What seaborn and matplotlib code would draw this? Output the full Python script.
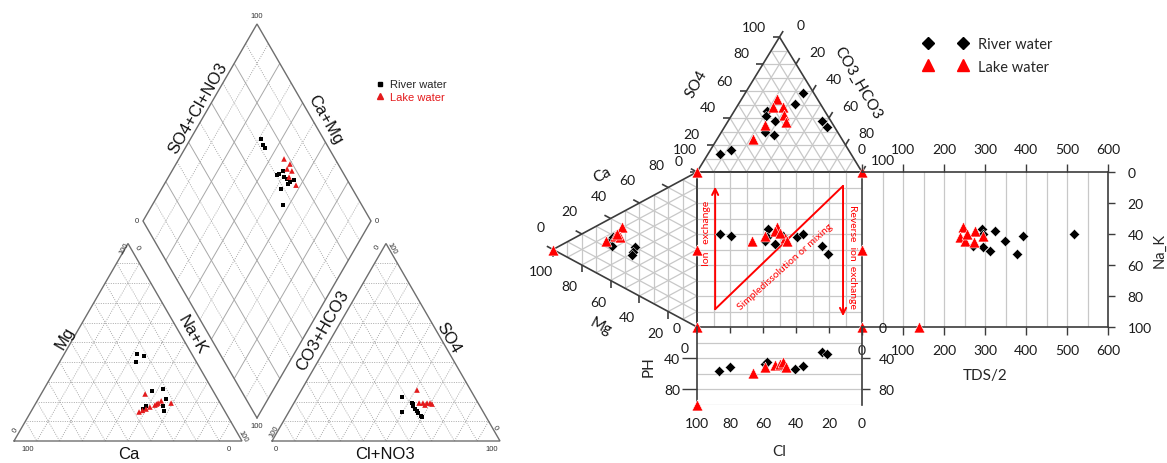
import numpy as np
import matplotlib
matplotlib.use("Agg")
import matplotlib.pyplot as plt
import seaborn as sns
from matplotlib.lines import Line2D

sns.set_theme(style="white")
plt.rcParams["font.family"] = ["Liberation Sans", "DejaVu Sans"]

# ---------------- Piper diagram data (% meq/L) ----------------
# cation triangle: Mg and Na+K (Ca is the remainder)
pip_cat_river_mg = [44.0, 43.0, 40.0, 26.3, 25.3, 21.3, 17.7, 15.2, 17.7, 16.2]
pip_cat_river_nak = [32.0, 35.5, 33.5, 52.2, 47.9, 56.0, 56.5, 58.2, 49.0, 48.5]
pip_cat_lake_mg = [23.8, 19.2, 14.7, 16.2, 17.2, 18.2, 19.2, 20.3, 15.5, 18.7]
pip_cat_lake_nak = [45.6, 59.3, 47.5, 49.8, 51.0, 52.7, 53.6, 54.4, 48.6, 53.2]
# anion triangle: SO4 and Cl+NO3 (CO3+HCO3 is the remainder)
pip_an_river_so4 = [22.3, 14.7, 19.2, 17.7, 16.2, 15.2, 14.2, 12.7, 12.2, 18.7]
pip_an_river_cl = [45.9, 49.7, 51.8, 53.0, 54.6, 56.0, 56.9, 59.0, 59.7, 52.5]
pip_an_lake_so4 = [25.8, 19.2, 19.2, 19.2, 19.2, 18.7, 18.2]
pip_an_lake_cl = [50.7, 54.9, 56.6, 58.4, 59.7, 60.8, 58.0]
# diamond: Ca+Mg and SO4+Cl+NO3
pip_dia_river_camg = [69.0, 66.7, 65.0, 52.3, 51.3, 49.3, 47.5, 45.5, 44.2, 47.6, 42.7, 45.8, 53.0]
pip_dia_river_so4cl = [72.6, 71.9, 72.0, 71.6, 74.1, 73.0, 73.8, 74.4, 76.6, 68.7, 65.5, 73.0, 70.5]
pip_dia_lake_camg = [53.9, 50.0, 50.0, 47.4, 42.0, 47.1]
pip_dia_lake_so4cl = [77.6, 78.9, 76.4, 78.0, 76.2, 75.2]

# ---------------- Durov diagram data ----------------
# anion triangle: SO4 and CO3_HCO3 (Cl is the remainder)
dur_an_river_so4 = [58.5, 50.4, 45.2, 41.5, 37.8, 29.6, 27.4, 37.8, 33.3, 13.3, 16.3]
dur_an_river_hco3 = [35.0, 34.2, 19.8, 21.1, 28.4, 26.4, 33.0, 56.9, 62.1, 7.3, 12.5]
dur_an_lake_so4 = [54.1, 48.1, 48.1, 42.2, 37.0, 34.8, 24.4]
dur_an_lake_hco3 = [21.4, 22.0, 28.1, 31.6, 35.4, 23.8, 21.7]
# cation triangle: Ca and Mg (Na_K is the remainder)
dur_cat_river_ca = [25.1, 22.6, 29.9, 26.1, 23.8, 28.7]
dur_cat_river_mg = [60.4, 59.0, 43.1, 44.4, 45.1, 58.3]
dur_cat_lake_ca = [38.3, 30.1, 23.7, 31.1, 32.0]
dur_cat_lake_mg = [52.1, 56.9, 63.2, 53.5, 55.6]
# central square: Cl and Na_K
dur_sq_river_cl = [86.1, 79.4, 57.0, 57.6, 52.7, 58.8, 39.4, 35.8, 24.2, 20.6, 47.9]
dur_sq_river_nak = [40.0, 41.3, 36.8, 41.9, 46.5, 44.5, 41.9, 40.0, 47.7, 52.9, 41.3]
dur_sq_lake_cl = [66.7, 58.8, 51.5, 52.7, 46.7, 45.5, 49.7]
dur_sq_lake_nak = [44.5, 41.3, 35.5, 38.1, 42.6, 44.5, 39.4]
# pH panel
dur_ph_river_cl = [86.7, 80.0, 58.8, 57.6, 40.6, 35.8, 24.2, 21.2, 49.7]
dur_ph_river_ph = [56.8, 51.6, 47.7, 45.2, 54.2, 50.3, 32.3, 34.8, 50.3]
dur_ph_lake_cl = [66.1, 58.8, 52.7, 49.7, 47.9, 46.1]
dur_ph_lake_ph = [59.4, 51.6, 49.0, 47.7, 45.2, 51.6]
# TDS panel
dur_tds_river = [293, 295, 324, 295, 312, 349, 393, 378, 517, 271]
dur_tds_river_nak = [36.8, 40.0, 38.1, 48.4, 51.0, 44.5, 41.3, 52.9, 40.0, 47.7]
dur_tds_lake = [246, 239, 251, 276, 273, 295, 256]
dur_tds_lake_nak = [35.5, 41.9, 44.5, 38.1, 45.2, 41.3, 40.0]
# template anchor points of the Durov sheet
anchor_sq_cl = [100, 100, 100, 0, 0, 0]
anchor_sq_nak = [0, 50, 100, 0, 50, 100]
anchor_tds, anchor_tds_nak = [140], [100]
anchor_ph_cl, anchor_ph = [100], [100]
anchor_cat_ca, anchor_cat_mg = [0], [100]

# ---------------- figure and helpers ----------------
W, H = 1167, 464
fig = plt.figure(figsize=(W / 100, H / 100), dpi=100)
cv = fig.add_axes([0, 0, 1, 1])
cv.set_xlim(0, W)
cv.set_ylim(H, 0)
cv.axis("off")

RED = "#ff0000"
PRED = "#e41a1c"
GRID_D = "#c8c8c8"
EDGE_D = "#3c3c3c"
DFONT = "Lato"


def px_axes(x0, y0, x1, y1):
    ax = fig.add_axes([x0 / W, 1 - y1 / H, (x1 - x0) / W, (y1 - y0) / H])
    ax.set_facecolor("none")
    return ax


def bary(verts, *parts):
    F = np.column_stack([np.asarray(p, float) for p in parts]) / 100.0
    return F @ np.asarray(verts, float)


def seg(ax, p, q, **kw):
    ax.plot([p[0], q[0]], [p[1], q[1]], solid_capstyle="butt", **kw)


def tri_grid(ax, verts, steps, **kw):
    V = np.asarray(verts, float)
    for i in range(3):
        j, k = (i + 1) % 3, (i + 2) % 3
        for t in steps:
            seg(ax, t * V[i] + (1 - t) * V[j], t * V[i] + (1 - t) * V[k], **kw)


def outline(ax, verts, **kw):
    V = np.asarray(verts, float)
    V = np.vstack([V, V[:1]])
    ax.plot(V[:, 0], V[:, 1], solid_joinstyle="miter", **kw)


def scatter(ax, x, y, style):
    sns.scatterplot(x=np.asarray(x, float), y=np.asarray(y, float), ax=ax,
                    legend=False, clip_on=False, zorder=6, **style)


PIP_RIVER = dict(marker="s", s=10, color="black", edgecolor="none", linewidth=0)
PIP_LAKE = dict(marker="^", s=16, color=PRED, edgecolor="none", linewidth=0)
DUR_RIVER = dict(marker="D", s=28, color="black", edgecolor="white", linewidth=0.3)
DUR_LAKE = dict(marker="^", s=62, color=RED, edgecolor="white", linewidth=0.4)

# ================= Piper diagram =================
CAT_V = [(14, 442), (128, 244.5), (242, 442)]      # Ca, Mg, Na+K
AN_V = [(272, 442), (386, 244.5), (500, 442)]      # CO3+HCO3, SO4, Cl+NO3
D_B, D_L, D_R = np.array([257.0, 419.0]), np.array([143.0, 222.0]), np.array([371.0, 222.0])

dotted = dict(color="#a0a0a0", lw=0.6, ls=(0, (1.2, 1.6)), zorder=1)
solid = dict(color="#a8a8a8", lw=0.7, zorder=1)
edge_p = dict(color="#6e6e6e", lw=1.0, zorder=2)

tenths = np.arange(1, 10) / 10
for verts in (CAT_V, AN_V):
    tri_grid(cv, verts, tenths, **dotted)
    outline(cv, verts, **edge_p)

for t in tenths:
    style = solid if round(t * 10) % 2 == 0 else dotted
    a = D_B + t * (D_L - D_B)
    seg(cv, a, a + (D_R - D_B), **style)
    b = D_B + t * (D_R - D_B)
    seg(cv, b, b + (D_L - D_B), **style)
outline(cv, [D_B, D_L, D_B + (D_L - D_B) + (D_R - D_B), D_R], **edge_p)


def dia_xy(camg, so4cl):
    u = np.asarray(camg, float)[:, None] / 100
    v = np.asarray(so4cl, float)[:, None] / 100
    return D_B + u * (D_L - D_B) + v * (D_R - D_B)


def cat_xy(mg, nak):
    mg, nak = np.asarray(mg, float), np.asarray(nak, float)
    return bary(CAT_V, 100 - mg - nak, mg, nak)


def an_xy(so4, cl):
    so4, cl = np.asarray(so4, float), np.asarray(cl, float)
    return bary(AN_V, 100 - so4 - cl, so4, cl)


for xy, st in [(cat_xy(pip_cat_river_mg, pip_cat_river_nak), PIP_RIVER),
               (cat_xy(pip_cat_lake_mg, pip_cat_lake_nak), PIP_LAKE),
               (an_xy(pip_an_river_so4, pip_an_river_cl), PIP_RIVER),
               (an_xy(pip_an_lake_so4, pip_an_lake_cl), PIP_LAKE),
               (dia_xy(pip_dia_river_camg, pip_dia_river_so4cl), PIP_RIVER),
               (dia_xy(pip_dia_lake_camg, pip_dia_lake_so4cl), PIP_LAKE)]:
    scatter(cv, xy[:, 0], xy[:, 1], st)

big = dict(fontsize=12, color="#111111", ha="center", va="center")
for x, y, s, r in [(198, 108, "SO4+Cl+NO3", 60), (325, 120, "Ca+Mg", -60),
                   (65, 338, "Mg", 60), (192, 335, "Na+K", -60),
                   (323, 331, "CO3+HCO3", 60), (448, 338, "SO4", -60),
                   (129, 455, "Ca", 0), (385, 455, "Cl+NO3", 0)]:
    cv.text(x, y, s, rotation=r, **big)

small = dict(fontsize=5.5, color="#333333", ha="center", va="center")
for x, y, s, r in [(257, 17, "100", 0), (137, 222, "0", 0), (377, 222, "0", 0),
                   (257, 427, "100", 0),
                   (28, 450, "100", 0), (229, 450, "0", 0), (15, 430, "0", 60),
                   (124, 249, "100", 60), (137, 248, "0", -60), (243, 437, "100", -60),
                   (276, 450, "0", 0), (274, 432, "100", 60), (377, 247, "0", 60),
                   (392, 249, "100", -60), (495, 428, "0", -60), (492, 450, "100", 0)]:
    cv.text(x, y, s, rotation=r, **small)

pip_handles = [Line2D([], [], marker="s", ls="none", color="black", ms=3),
               Line2D([], [], marker="^", ls="none", color=PRED, ms=4)]
leg1 = cv.legend(pip_handles, ["River water", "Lake water"], loc="center left",
                 bbox_to_anchor=(375.5, 91.5), bbox_transform=cv.transData,
                 frameon=False, fontsize=8, handlelength=0.8, handletextpad=0.5,
                 labelspacing=0.2, borderpad=0, borderaxespad=0, numpoints=1)
leg1.get_texts()[1].set_color(PRED)
cv.add_artist(leg1)

# ================= Durov diagram =================
TOP_V = [(697, 173), (862, 173), (779.5, 38)]      # Cl, CO3_HCO3, SO4
LEFT_V = [(697, 173), (553, 250.5), (697, 328)]    # Ca, Mg, Na_K

gridD = dict(color=GRID_D, lw=0.9, zorder=1)
edgeD = dict(color=EDGE_D, lw=1.2, zorder=3)
for verts in (TOP_V, LEFT_V):
    tri_grid(cv, verts, tenths, **gridD)
    outline(cv, verts, **edgeD)


def edge_ticks(verts, i, j, k, offset, ha, length=7):
    V = np.asarray(verts, float)
    d = V[j] - V[k]
    d = d / np.hypot(*d)
    for t in np.arange(0, 6) / 5:
        p = t * V[i] + (1 - t) * V[j]
        seg(cv, p, p + length * d, **edgeD)
        cv.text(p[0] + offset[0], p[1] + offset[1], f"{round(t * 100)}",
                ha=ha, va="center", fontsize=10, family=DFONT, color="#1a1a1a")


edge_ticks(TOP_V, 2, 0, 1, (-14, -10.5), "right")     # SO4
edge_ticks(TOP_V, 1, 2, 0, (21, -12), "center")       # CO3_HCO3
edge_ticks(LEFT_V, 0, 1, 2, (-12, -22.5), "center")   # Ca
edge_ticks(LEFT_V, 1, 2, 0, (-12.5, 21.5), "center")  # Mg

lab = dict(fontsize=11, family=DFONT, color="#111111", ha="center", va="center")
cv.text(696, 84, "SO4", rotation=60, **lab)
cv.text(858, 83, "CO3_HCO3", rotation=-60, **lab)
cv.text(602, 175, "Ca", rotation=28, **lab)
cv.text(601, 327, "Mg", rotation=-28, **lab)

an_river = bary(TOP_V, 100 - np.add(dur_an_river_so4, dur_an_river_hco3), dur_an_river_hco3, dur_an_river_so4)
an_lake = bary(TOP_V, 100 - np.add(dur_an_lake_so4, dur_an_lake_hco3), dur_an_lake_hco3, dur_an_lake_so4)
cat_river = bary(LEFT_V, dur_cat_river_ca, dur_cat_river_mg, 100 - np.add(dur_cat_river_ca, dur_cat_river_mg))
cat_lake = bary(LEFT_V, dur_cat_lake_ca, dur_cat_lake_mg, 100 - np.add(dur_cat_lake_ca, dur_cat_lake_mg))
cat_anchor = bary(LEFT_V, anchor_cat_ca, anchor_cat_mg, 100 - np.add(anchor_cat_ca, anchor_cat_mg))
scatter(cv, an_river[:, 0], an_river[:, 1], DUR_RIVER)
scatter(cv, an_lake[:, 0], an_lake[:, 1], DUR_LAKE)
scatter(cv, cat_river[:, 0], cat_river[:, 1], DUR_RIVER)
scatter(cv, cat_lake[:, 0], cat_lake[:, 1], DUR_LAKE)
scatter(cv, cat_anchor[:, 0], cat_anchor[:, 1], DUR_LAKE)

dur_handles = [Line2D([], [], marker="D", ls="none", color="black", ms=6.5),
               Line2D([], [], marker="^", ls="none", color=RED, ms=9)]
leg2 = cv.legend(dur_handles, ["River water", "Lake water"], loc="center left",
                 bbox_to_anchor=(923.6, 56.5), bbox_transform=cv.transData,
                 frameon=False, prop={"family": DFONT, "size": 10.5},
                 handlelength=3.0, handletextpad=0.73, labelspacing=0.55,
                 borderpad=0, borderaxespad=0, numpoints=2)


def style_spines(ax, visible):
    for name, sp in ax.spines.items():
        sp.set_visible(name in visible)
        sp.set_color(EDGE_D)
        sp.set_linewidth(1.2)


# ---- central square ----
sq = px_axes(697, 173, 862, 328)
sq.set_xlim(100, 0)
sq.set_ylim(100, 0)
for v in range(10, 100, 10):
    sq.axvline(v, color=GRID_D, lw=0.9, zorder=0)
    sq.axhline(v, color=GRID_D, lw=0.9, zorder=0)
style_spines(sq, ("left", "right", "top", "bottom"))
sq.set_xticks([80, 60, 40, 20])
sq.set_yticks([])
sq.tick_params(axis="x", bottom=True, top=False, labelbottom=False,
               direction="out", length=4, width=1, color=EDGE_D)
scatter(sq, dur_sq_river_cl, dur_sq_river_nak, DUR_RIVER)
scatter(sq, dur_sq_lake_cl, dur_sq_lake_nak, DUR_LAKE)
scatter(sq, anchor_sq_cl, anchor_sq_nak, DUR_LAKE)

arrow = dict(arrowstyle="->", color=RED, lw=1.4, shrinkA=0, shrinkB=0, mutation_scale=11)
sq.annotate("", xy=(89, 9.5), xytext=(89, 88.5), arrowprops=arrow)
sq.plot([89, 11.5], [88.5, 9], color=RED, lw=1.4)
sq.annotate("", xy=(11.5, 93), xytext=(11.5, 9), arrowprops=arrow)
note = dict(color=RED, family=DFONT, ha="center", va="center")
sq.text(94.5, 38.7, "Ion   exchange", rotation=90, fontsize=7.5, **note)
sq.text(5.5, 54.2, "Reverse  ion  exchange", rotation=-90, fontsize=7.5, **note)
sq.text(46.5, 60.5, "Simpledissolution or mixing", rotation=42, fontsize=7.5, **note)

# ---- TDS panel ----
td = px_axes(862, 173, 1108, 328)
td.set_xlim(0, 600)
td.set_ylim(100, 0)
for v in range(50, 600, 50):
    td.axvline(v, color=GRID_D, lw=0.9, zorder=0)
style_spines(td, ("top", "bottom", "right"))
scatter(td, dur_tds_river, dur_tds_river_nak, DUR_RIVER)
scatter(td, dur_tds_lake, dur_tds_lake_nak, DUR_LAKE)
scatter(td, anchor_tds, anchor_tds_nak, DUR_LAKE)
td.set_xticks(range(0, 601, 100))
td.set_yticks(range(0, 101, 20))
td.tick_params(axis="x", top=True, bottom=True, labeltop=True, labelbottom=True,
               direction="out", length=6, width=1, color=EDGE_D, pad=6,
               labelsize=10, labelfontfamily=DFONT, labelcolor="#1a1a1a")
td.tick_params(axis="y", left=False, right=True, labelleft=False, labelright=True,
               direction="out", length=5, width=1, color=EDGE_D, pad=9,
               labelsize=10, labelfontfamily=DFONT, labelcolor="#1a1a1a")
td.yaxis.set_label_position("right")
td.set_ylabel("Na_K", rotation=90, labelpad=1, fontsize=10.5, family=DFONT)
td.set_xlabel("TDS/2", labelpad=9, fontsize=11, family=DFONT)

# ---- pH panel ----
ph = px_axes(697, 328, 862, 405.5)
ph.set_xlim(100, 0)
ph.set_ylim(100, 0)
for v in (20, 40, 60, 80, 100):
    ph.axhline(v, color=GRID_D, lw=0.9, zorder=0)
style_spines(ph, ("left", "right"))
scatter(ph, dur_ph_river_cl, dur_ph_river_ph, DUR_RIVER)
scatter(ph, dur_ph_lake_cl, dur_ph_lake_ph, DUR_LAKE)
scatter(ph, anchor_ph_cl, anchor_ph, DUR_LAKE)
ph.set_xticks([100, 80, 60, 40, 20, 0])
ph.set_yticks([0, 40, 80])
ph.tick_params(axis="x", bottom=True, labelbottom=True, length=0, pad=9,
               labelsize=10, labelfontfamily=DFONT, labelcolor="#1a1a1a")
ph.tick_params(axis="y", left=True, right=True, labelleft=True, labelright=True,
               direction="out", length=11, width=1, color=EDGE_D, pad=1,
               labelsize=10, labelfontfamily=DFONT, labelcolor="#1a1a1a")
ph.set_xlabel("Cl", labelpad=11, fontsize=11, family=DFONT)
ph.set_ylabel("PH", labelpad=6, fontsize=11, family=DFONT)
for i, tk in enumerate(ph.yaxis.get_major_ticks()):
    tk.tick2line.set_markersize(5.5)
    if i == 0:
        tk.tick1line.set_visible(False)
        tk.tick2line.set_visible(False)

fig.savefig("out.png", dpi=100)
